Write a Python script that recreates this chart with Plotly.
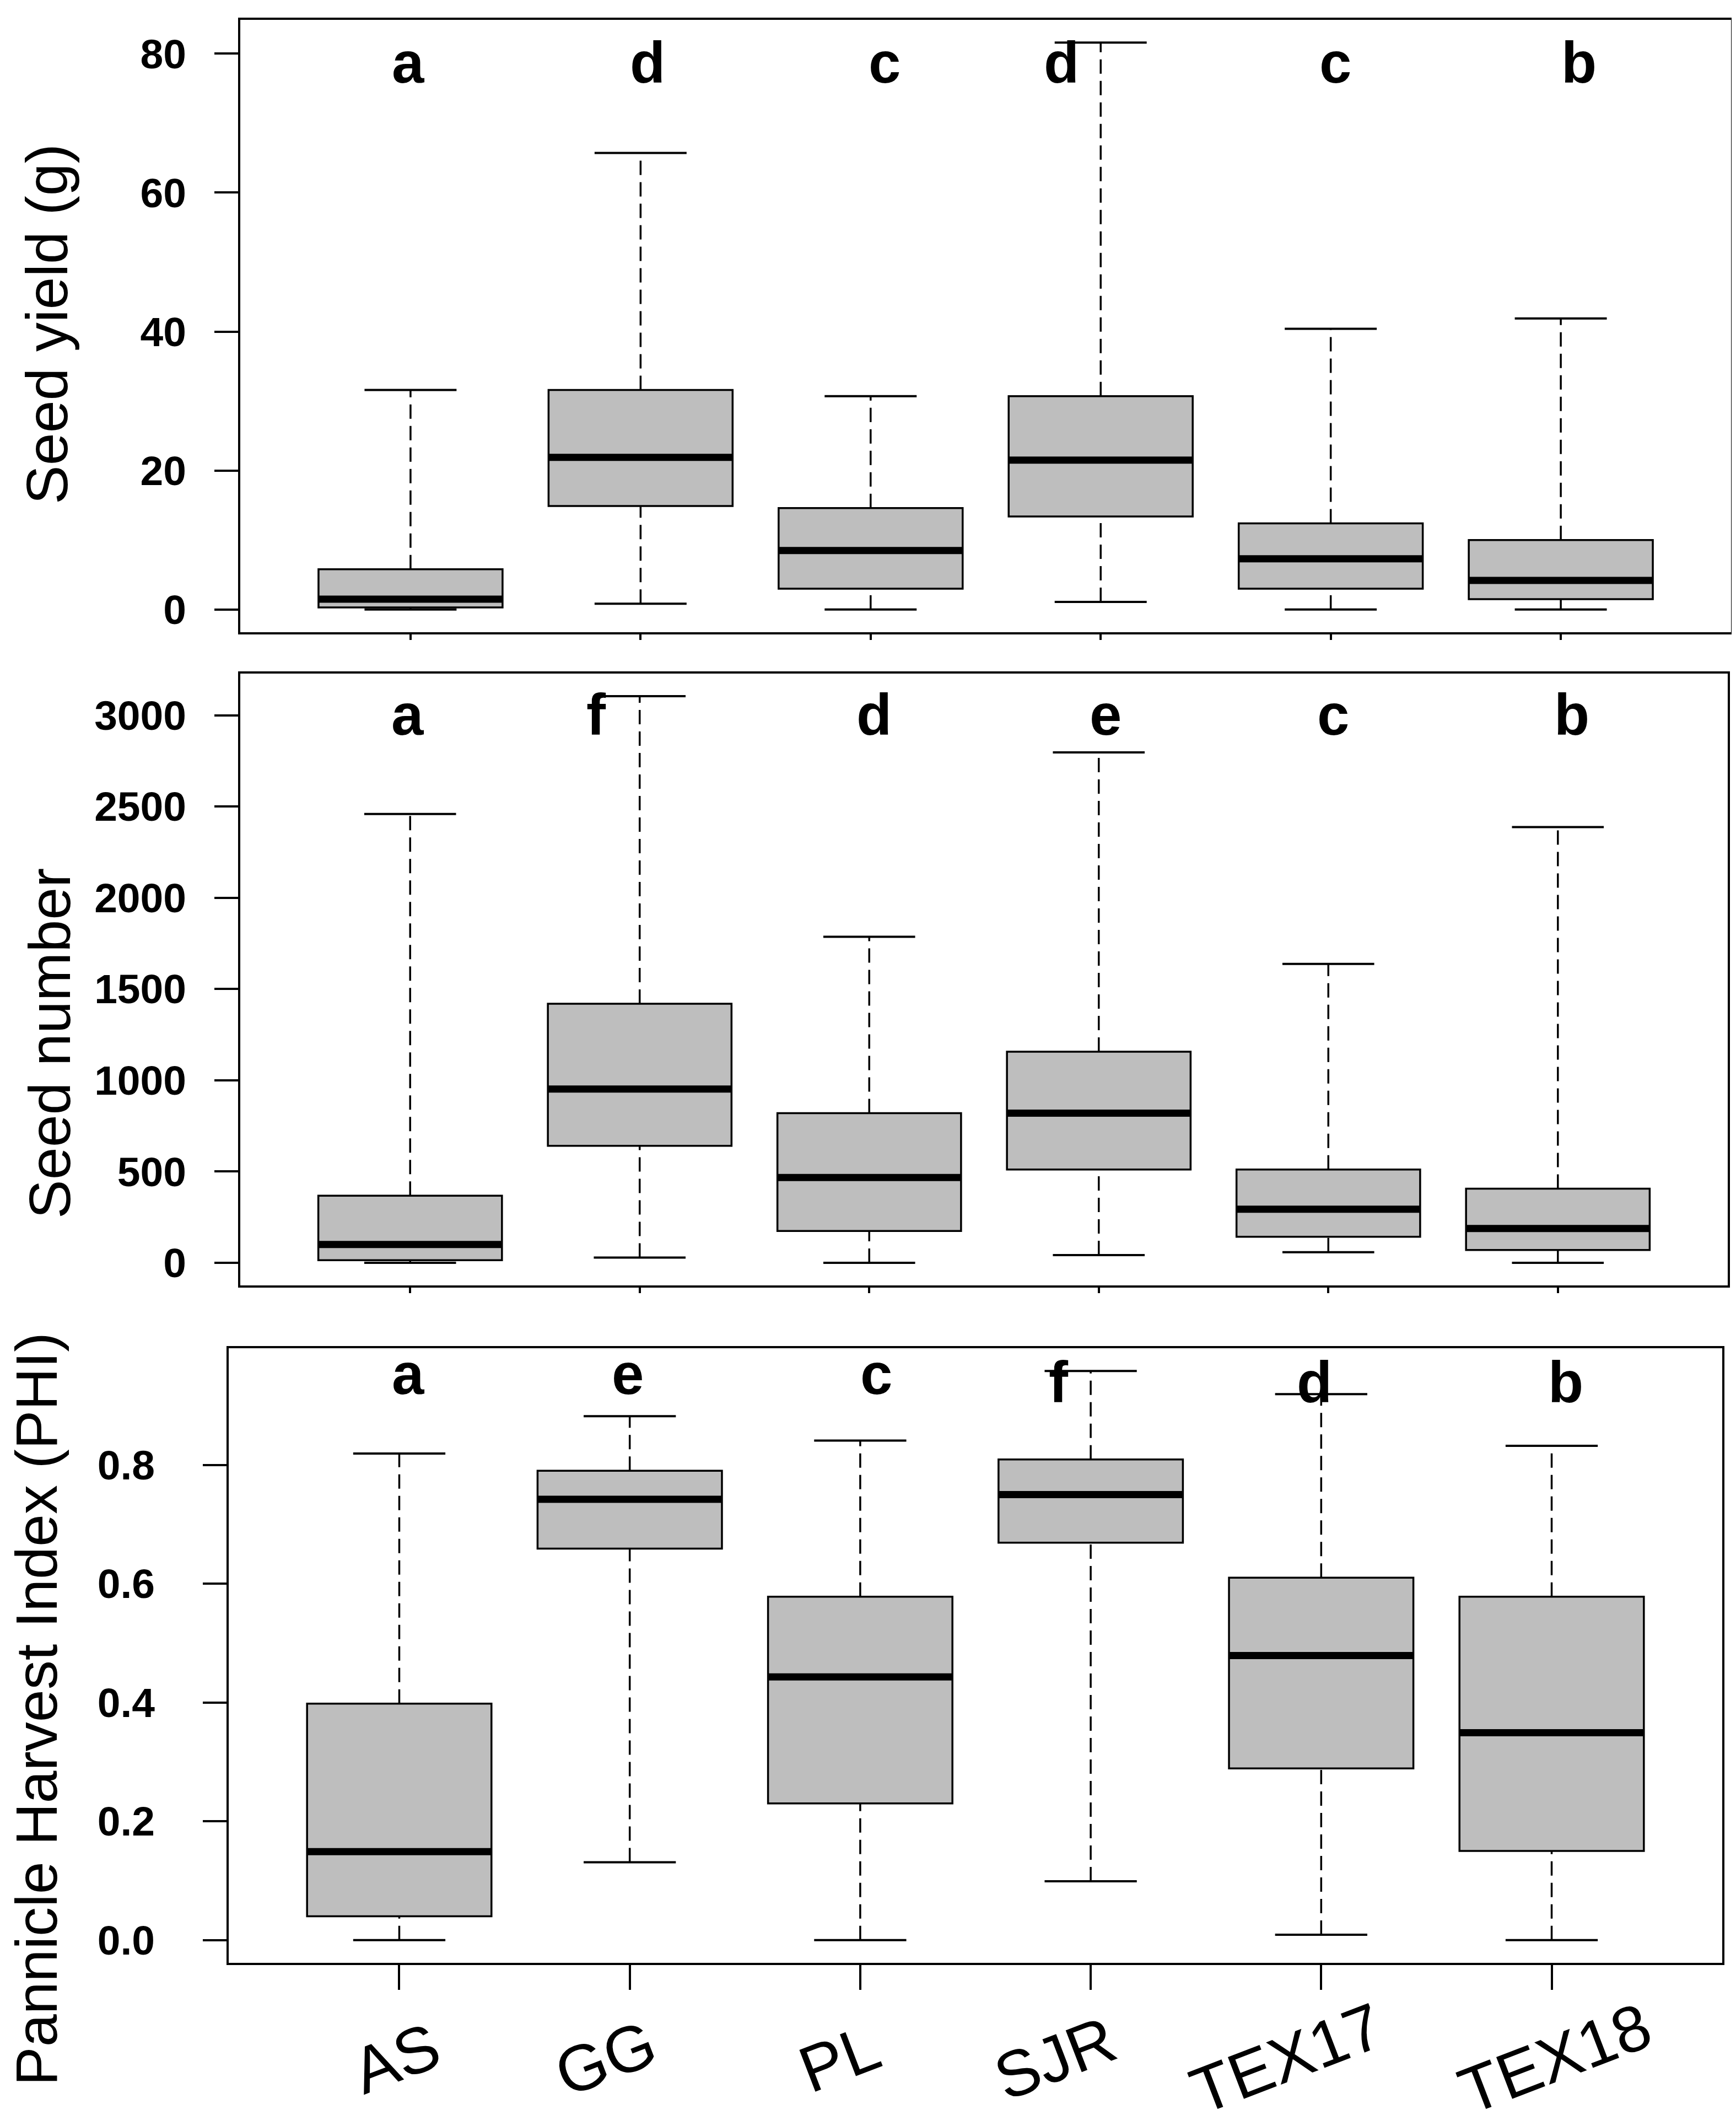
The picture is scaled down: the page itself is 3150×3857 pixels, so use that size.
import plotly.graph_objects as go
from plotly.subplots import make_subplots

groups = ["AS", "GG", "PL", "SJR", "TEX17", "TEX18"]

# seed yield (g): whisker ends, quartiles, median
yield_low = [0.0, 0.85, 0.0, 1.1, 0.0, 0.0]
yield_q1 = [0.3, 14.9, 3.0, 13.4, 3.0, 1.5]
yield_med = [1.5, 21.9, 8.5, 21.5, 7.3, 4.2]
yield_q3 = [5.8, 31.6, 14.6, 30.7, 12.4, 10.0]
yield_high = [31.6, 65.7, 30.7, 81.6, 40.4, 41.9]
yield_letters = ["a", "d", "c", "d", "c", "b"]

# seed number
num_low = [0, 28, 0, 42, 58, 0]
num_q1 = [14, 641, 174, 511, 142, 70]
num_med = [100, 952, 467, 820, 293, 188]
num_q3 = [367, 1419, 820, 1156, 511, 406]
num_high = [2459, 3104, 1786, 2796, 1637, 2387]
num_letters = ["a", "f", "d", "e", "c", "b"]

# pannicle harvest index
phi_low = [0.0, 0.131, 0.0, 0.099, 0.009, 0.0]
phi_q1 = [0.040, 0.659, 0.230, 0.669, 0.289, 0.150]
phi_med = [0.149, 0.742, 0.443, 0.750, 0.479, 0.349]
phi_q3 = [0.398, 0.790, 0.578, 0.809, 0.610, 0.578]
phi_high = [0.819, 0.882, 0.841, 0.958, 0.919, 0.832]
phi_letters = ["a", "e", "c", "f", "d", "b"]

yield_ticks = [0, 20, 40, 60, 80]
num_ticks = [0, 500, 1000, 1500, 2000, 2500, 3000]
phi_ticks = [0.0, 0.2, 0.4, 0.6, 0.8]

W, H = 3150, 3857
FONT = "Liberation Sans, Arial, sans-serif"
GREY = "#bebebe"

panels = [
    dict(low=yield_low, q1=yield_q1, med=yield_med, q3=yield_q3, high=yield_high,
         letters=yield_letters, ticks=yield_ticks, fmt="", title="Seed yield (g)",
         frame=(428, 3133, 28, 1139), title_pos=(77, 580),
         let_x=[0.99, 2.03, 3.06, 3.83, 5.02, 6.08], let_y=[0.93] * 6,
         xticklen=10, standoff=36),
    dict(low=num_low, q1=num_q1, med=num_med, q3=num_q3, high=num_high,
         letters=num_letters, ticks=num_ticks, fmt="", title="Seed number",
         frame=(428, 3127, 1214, 2324), title_pos=(82, 1885),
         let_x=[0.99, 1.81, 3.02, 4.03, 5.02, 6.06], let_y=[0.933] * 6,
         xticklen=10, standoff=36),
    dict(low=phi_low, q1=phi_q1, med=phi_med, q3=phi_q3, high=phi_high,
         letters=phi_letters, ticks=phi_ticks, fmt=".1f", title="Pannicle Harvest Index (PHI)",
         frame=(407, 3117, 2438, 3553), title_pos=(58, 3093),
         let_x=[1.04, 1.99, 3.07, 3.86, 4.97, 6.06], let_y=[0.958, 0.958, 0.958, 0.945, 0.945, 0.945],
         xticklen=45, standoff=72),
]

# the group names sit a little off their ticks in the original
label_shift = [-0.014, -0.105, -0.09, -0.155, -0.15, 0.015]

pos = list(range(1, len(groups) + 1))
box_w = 0.8
cap_w = 0.4

fig = make_subplots(rows=3, cols=1)

for r, p in enumerate(panels, start=1):
    # box body (fences equal to hinges; whiskers drawn separately)
    fig.add_trace(go.Box(x=pos, q1=p["q1"], median=p["med"], q3=p["q3"],
                         lowerfence=p["q1"], upperfence=p["q3"], width=box_w,
                         fillcolor=GREY, line=dict(color="black", width=3.5),
                         boxpoints=False, showlegend=False, hoverinfo="skip"),
                  row=r, col=1)
    wx, wy, cx, cy, mx, my = [], [], [], [], [], []
    for i, x in enumerate(pos):
        wx += [x, x, None, x, x, None]
        wy += [p["q3"][i], p["high"][i], None, p["low"][i], p["q1"][i], None]
        cx += [x - cap_w / 2, x + cap_w / 2, None, x - cap_w / 2, x + cap_w / 2, None]
        cy += [p["high"][i], p["high"][i], None, p["low"][i], p["low"][i], None]
        mx += [x - box_w / 2, x + box_w / 2, None]
        my += [p["med"][i], p["med"][i], None]
    fig.add_trace(go.Scatter(x=wx, y=wy, mode="lines", showlegend=False, hoverinfo="skip",
                             line=dict(color="black", width=3.5, dash="26px,13px")),
                  row=r, col=1)
    fig.add_trace(go.Scatter(x=cx, y=cy, mode="lines", showlegend=False, hoverinfo="skip",
                             line=dict(color="black", width=4)),
                  row=r, col=1)
    fig.add_trace(go.Scatter(x=mx, y=my, mode="lines", showlegend=False, hoverinfo="skip",
                             line=dict(color="black", width=13)),
                  row=r, col=1)

    lo = min(p["low"])
    hi = max(p["high"])
    span = hi - lo
    x0, x1, y0, y1 = p["frame"]
    fig.update_xaxes(row=r, col=1, domain=[x0 / W, x1 / W], range=[0.26, 6.74],
                     tickvals=pos, showticklabels=False, ticks="outside",
                     ticklen=p["xticklen"], tickwidth=3.5, tickcolor="black",
                     showline=True, mirror=True, linecolor="black", linewidth=4,
                     showgrid=False, zeroline=False)
    fig.update_yaxes(row=r, col=1, domain=[1 - y1 / H, 1 - y0 / H],
                     range=[lo - 0.04 * span, hi + 0.04 * span],
                     tickvals=p["ticks"], tickformat=p["fmt"], ticks="outside",
                     ticklen=43, tickwidth=3.5, tickcolor="black",
                     ticklabelstandoff=p["standoff"],
                     tickfont=dict(family=FONT, size=75, color="black", weight="bold"),
                     showline=True, mirror=True, linecolor="black", linewidth=4,
                     showgrid=False, zeroline=False)

    suffix = "" if r == 1 else str(r)
    for lx, ly, txt in zip(p["let_x"], p["let_y"], p["letters"]):
        fig.add_annotation(x=lx, y=ly, xref="x" + suffix, yref="y" + suffix + " domain",
                           text=txt, showarrow=False, xanchor="center", yanchor="middle",
                           font=dict(family=FONT, size=105, color="black", weight="bold"))
    tx, ty = p["title_pos"]
    fig.add_annotation(x=tx / W, y=1 - ty / H, xref="paper", yref="paper",
                       text=p["title"], showarrow=False, textangle=-90,
                       xanchor="center", yanchor="middle",
                       font=dict(family=FONT, size=106, color="black"))

# rotated group labels under the bottom panel
for x, g, dx in zip(pos, groups, label_shift):
    fig.add_annotation(x=x + dx, y=1 - 3726 / H, xref="x3", yref="paper",
                       text=g, showarrow=False, textangle=-21,
                       xanchor="center", yanchor="middle",
                       font=dict(family=FONT, size=118, color="black"))

fig.update_layout(width=W, height=H, autosize=False,
                  margin=dict(l=0, r=0, t=0, b=0),
                  paper_bgcolor="white", plot_bgcolor="white",
                  showlegend=False)

fig.write_html("out.html")
